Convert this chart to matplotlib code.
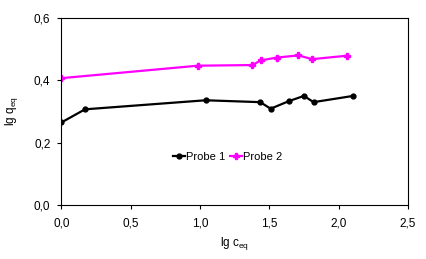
import matplotlib
matplotlib.use("Agg")
import matplotlib.pyplot as plt
from matplotlib.ticker import FuncFormatter, MultipleLocator

plt.rcParams["font.family"] = ["Liberation Sans", "DejaVu Sans"]
plt.rcParams["mathtext.fontset"] = "custom"
plt.rcParams["mathtext.rm"] = "Liberation Sans"
plt.rcParams["mathtext.it"] = "Liberation Sans"
plt.rcParams["font.size"] = 8.5

# Probe 1
x1 = [0.0, 0.17, 1.04, 1.435, 1.51, 1.64, 1.75, 1.82, 2.105]
y1 = [0.265, 0.307, 0.336, 0.330, 0.309, 0.333, 0.350, 0.330, 0.350]
# Probe 2
x2 = [0.0, 0.985, 1.377, 1.44, 1.553, 1.71, 1.81, 2.06]
y2 = [0.407, 0.447, 0.449, 0.464, 0.473, 0.480, 0.468, 0.479]

fig = plt.figure(figsize=(4.27, 2.59), dpi=100)
ax = fig.add_axes([0.144, 0.2085, 0.811, 0.722])

ax.plot(x1, y1, color="black", lw=1.6, marker="o", ms=3.5, label="Probe 1")
ax.plot(x2, y2, color="#FF00FF", lw=1.6, marker="P", ms=4, label="Probe 2")

ax.set_xlim(0, 2.5)
ax.set_ylim(0, 0.6)
ax.xaxis.set_major_locator(MultipleLocator(0.5))
ax.yaxis.set_major_locator(MultipleLocator(0.2))
fmt = FuncFormatter(lambda v, p: f"{v:.1f}".replace(".", ","))
ax.xaxis.set_major_formatter(fmt)
ax.yaxis.set_major_formatter(fmt)
ax.tick_params(direction="out", length=3, width=0.8, colors="black")
ax.tick_params(axis="x", pad=6)
ax.tick_params(axis="y", pad=5)
for s in ax.spines.values():
    s.set_linewidth(0.8)

ax.set_xlabel(r"lg c$_{\mathrm{eq}}$", labelpad=4)
ax.set_ylabel(r"lg q$_{\mathrm{eq}}$", labelpad=10)

ax.legend(loc="center", bbox_to_anchor=(0.48, 0.257), ncol=2, frameon=False,
          handlelength=1.0, handletextpad=0.1, columnspacing=0.5,
          borderpad=0, fontsize=8)

fig.savefig("out.png", dpi=100)
